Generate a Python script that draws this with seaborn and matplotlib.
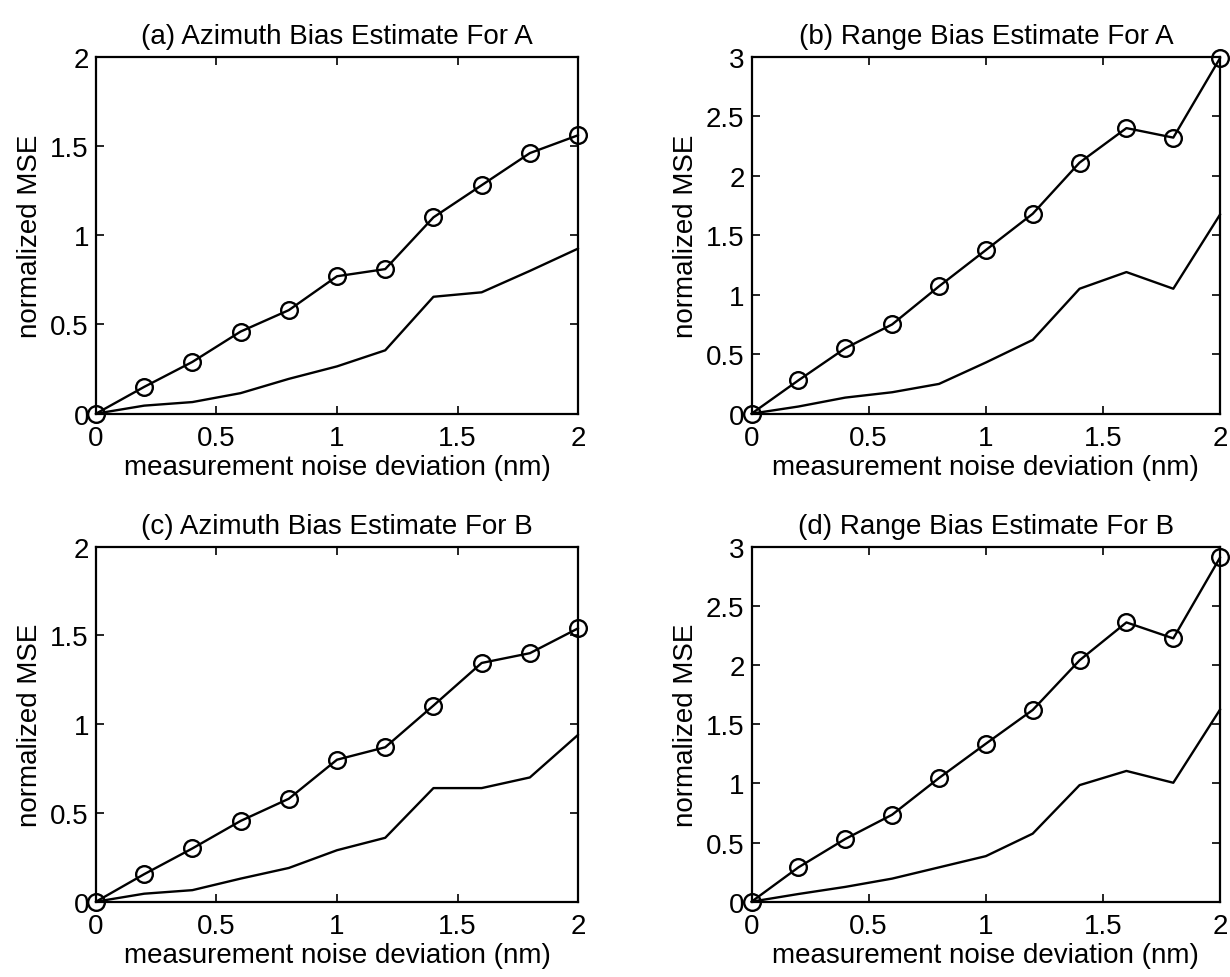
import matplotlib
matplotlib.use("Agg")
import matplotlib.pyplot as plt
import seaborn as sns
import pandas as pd

# ---- data ----
noise = [0.0, 0.2, 0.4, 0.6, 0.8, 1.0, 1.2, 1.4, 1.6, 1.8, 2.0]

a_circle = [0, 0.15, 0.29, 0.46, 0.58, 0.77, 0.81, 1.10, 1.28, 1.46, 1.56]
a_plain = [0, 0.045, 0.065, 0.115, 0.195, 0.265, 0.355, 0.655, 0.68, 0.80, 0.925]

b_circle = [0, 0.28, 0.55, 0.75, 1.07, 1.375, 1.68, 2.11, 2.40, 2.32, 2.99]
b_plain = [0, 0.06, 0.135, 0.18, 0.25, 0.43, 0.62, 1.05, 1.19, 1.05, 1.675]

c_circle = [0, 0.155, 0.30, 0.455, 0.58, 0.80, 0.87, 1.105, 1.345, 1.40, 1.54]
c_plain = [0, 0.045, 0.065, 0.13, 0.19, 0.29, 0.36, 0.64, 0.64, 0.70, 0.94]

d_circle = [0, 0.29, 0.53, 0.735, 1.045, 1.335, 1.62, 2.04, 2.36, 2.225, 2.91]
d_plain = [0, 0.065, 0.125, 0.195, 0.29, 0.385, 0.575, 0.985, 1.105, 1.005, 1.625]

titles = ["(a) Azimuth Bias Estimate For A", "(b) Range Bias Estimate For A",
          "(c) Azimuth Bias Estimate For B", "(d) Range Bias Estimate For B"]
xlabel = "measurement noise deviation (nm)"
ylabel = "normalized MSE"
xticks = [0, 0.5, 1, 1.5, 2]
xticklabels = ["0", "0.5", "1", "1.5", "2"]
yticks_az = [0, 0.5, 1, 1.5, 2]
yticklabels_az = ["0", "0.5", "1", "1.5", "2"]
yticks_rg = [0, 0.5, 1, 1.5, 2, 2.5, 3]
yticklabels_rg = ["0", "0.5", "1", "1.5", "2", "2.5", "3"]

sns.set_style("ticks")
plt.rcParams['font.family'] = ['Liberation Sans', 'DejaVu Sans']
plt.rcParams['text.color'] = 'black'
plt.rcParams['axes.labelcolor'] = 'black'
FS = 20

fig = plt.figure(figsize=(12.3, 9.78), dpi=100)

positions = [
    [0.078, 0.576, 0.392, 0.365],
    [0.611, 0.576, 0.381, 0.365],
    [0.078, 0.077, 0.392, 0.363],
    [0.611, 0.077, 0.381, 0.363],
]
panels = [
    (a_circle, a_plain, 2, yticks_az, yticklabels_az),
    (b_circle, b_plain, 3, yticks_rg, yticklabels_rg),
    (c_circle, c_plain, 2, yticks_az, yticklabels_az),
    (d_circle, d_plain, 3, yticks_rg, yticklabels_rg),
]

for pos, title, (circ, plain, ymax, yt, ytl) in zip(positions, titles, panels):
    ax = fig.add_axes(pos)
    df = pd.DataFrame({"x": noise, "circle": circ, "plain": plain})
    sns.lineplot(data=df, x="x", y="circle", ax=ax, color="black", lw=1.7,
                 marker="o", markersize=12, markerfacecolor="none",
                 markeredgecolor="black", markeredgewidth=1.7, clip_on=False)
    sns.lineplot(data=df, x="x", y="plain", ax=ax, color="black", lw=1.7,
                 clip_on=False)
    ax.set_xlim(0, 2)
    ax.set_ylim(0, ymax)
    ax.set_xticks(xticks)
    ax.set_xticklabels(xticklabels)
    ax.set_yticks(yt)
    ax.set_yticklabels(ytl)
    ax.tick_params(direction="in", top=True, right=True, length=6, width=1.2,
                   labelsize=FS, colors="black")
    ax.tick_params(axis="x", pad=8)
    ax.tick_params(axis="y", pad=5)
    for s in ax.spines.values():
        s.set_visible(True)
        s.set_linewidth(1.6)
        s.set_color("black")
    ax.set_xlabel(xlabel, fontsize=FS, labelpad=2)
    ax.set_ylabel(ylabel, fontsize=FS, labelpad=5)
    ax.set_title(title, fontsize=FS, pad=10)

fig.savefig("out.png", dpi=100)
